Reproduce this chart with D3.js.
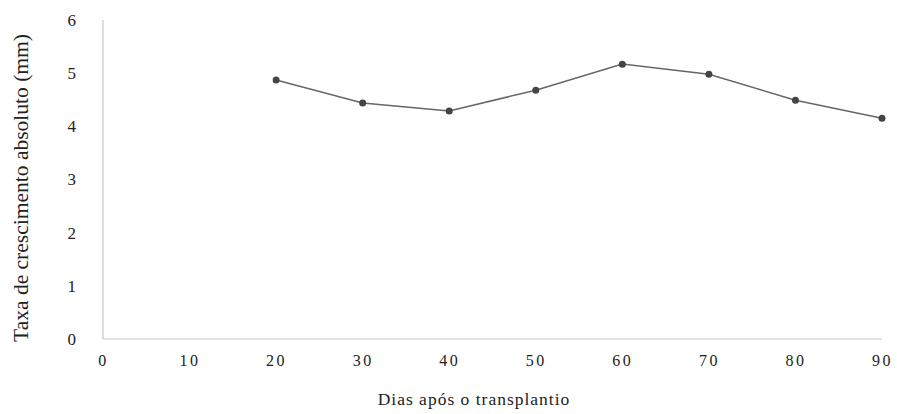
<!DOCTYPE html>
<html><head><meta charset="utf-8">
<script src="https://cdn.jsdelivr.net/npm/d3@7"></script>
<style>body{margin:0;background:#fff}svg{display:block}</style>
</head><body>
<svg id="c" width="899" height="414"></svg>
<script>
const days = [20, 30, 40, 50, 60, 70, 80, 90];
const rate = [4.87, 4.44, 4.29, 4.68, 5.17, 4.98, 4.49, 4.15];
const xTicks = [0, 10, 20, 30, 40, 50, 60, 70, 80, 90];
const yTicks = [0, 1, 2, 3, 4, 5, 6];
const xTitle = "Dias  após o transplantio";
const yTitle = "Taxa de crescimento absoluto (mm)";

const svg = d3.select("#c");
const x = d3.scaleLinear().domain([0, 90]).range([103, 882]);
const y = d3.scaleLinear().domain([0, 6]).range([339, 20]);

svg.append("line").attr("x1", x(0)).attr("x2", x(0)).attr("y1", y(6)).attr("y2", y(0))
  .attr("stroke", "#c8c8c8").attr("stroke-width", 1.2);
svg.append("line").attr("x1", x(0)).attr("x2", x(90)).attr("y1", y(0)).attr("y2", y(0))
  .attr("stroke", "#d9d9d9").attr("stroke-width", 1.5);

const yAxis = d3.axisLeft(y).tickValues(yTicks).tickSize(0).tickPadding(27).tickFormat(d3.format("d"));
const gy = svg.append("g").attr("transform", `translate(${x(0)},0)`).call(yAxis);
gy.select(".domain").remove();
gy.selectAll("text").attr("font-family", "Liberation Serif, serif").attr("font-size", 17).attr("fill", "#222");

const xAxis = d3.axisBottom(x).tickValues(xTicks).tickSize(0).tickPadding(16).tickFormat(d3.format("d"));
const gx = svg.append("g").attr("transform", `translate(0,${y(0)})`).call(xAxis);
gx.select(".domain").remove();
gx.selectAll("text").attr("font-family", "Liberation Serif, serif").attr("font-size", 16)
  .attr("letter-spacing", "2.5px").attr("fill", "#222");

const pts = days.map((d, i) => [d, rate[i]]);
svg.append("path").datum(pts)
  .attr("d", d3.line().x(d => x(d[0])).y(d => y(d[1])))
  .attr("fill", "none").attr("stroke", "#666").attr("stroke-width", 1.5);
svg.selectAll("circle.pt").data(pts).enter().append("circle").attr("class", "pt")
  .attr("cx", d => x(d[0])).attr("cy", d => y(d[1])).attr("r", 3.5).attr("fill", "#444");

svg.append("text").attr("x", 474).attr("y", 405).attr("text-anchor", "middle")
  .attr("font-family", "Liberation Serif, serif").attr("font-size", 17.5).attr("letter-spacing", "1px")
  .attr("fill", "#222").text(xTitle);

svg.append("text").attr("transform", "translate(28,188) rotate(-90)").attr("text-anchor", "middle")
  .attr("font-family", "Liberation Serif, serif").attr("font-size", 20)
  .attr("textLength", 308).attr("lengthAdjust", "spacingAndGlyphs")
  .attr("fill", "#222").text(yTitle);
</script>
</body></html>
